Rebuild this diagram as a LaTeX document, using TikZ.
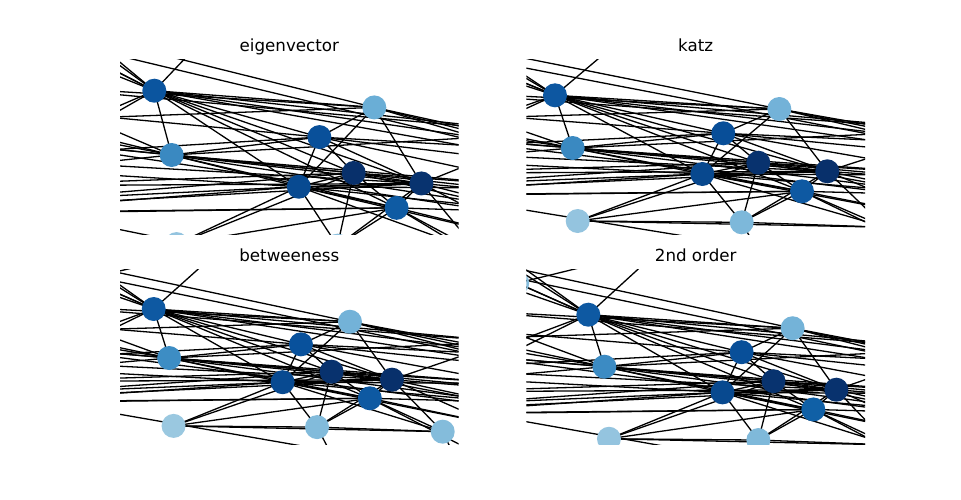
\documentclass[tikz,border=0pt]{standalone}
\usepackage{fontspec}
\setmainfont{DejaVu Sans}
\tikzset{
  edge/.style={line width=1.3pt, black},
  vert/.style={circle, inner sep=0pt, minimum size=24pt, draw=none},
  ttl/.style={font=\fontsize{16.7pt}{20pt}\selectfont, anchor=base, inner sep=0pt}
}
% colours: panel 1 eigenvector
\definecolor{p1cA}{HTML}{0B559F}\definecolor{p1cB}{HTML}{6AAED6}\definecolor{p1cC}{HTML}{3A89C1}
\definecolor{p1cD}{HTML}{09509A}\definecolor{p1cE}{HTML}{08306B}\definecolor{p1cF}{HTML}{084A91}
\definecolor{p1cG}{HTML}{08336F}\definecolor{p1cH}{HTML}{0F5BA3}\definecolor{p1cI}{HTML}{94C4DF}
\definecolor{p1cJ}{HTML}{8BBFDD}\definecolor{p1cK}{HTML}{9CC9E1}\definecolor{p1cL}{HTML}{A3CCE3}
% panel 2 katz
\definecolor{p2cA}{HTML}{0D57A1}\definecolor{p2cB}{HTML}{73B2D8}\definecolor{p2cC}{HTML}{3A89C1}
\definecolor{p2cD}{HTML}{084E98}\definecolor{p2cE}{HTML}{08326E}\definecolor{p2cF}{HTML}{08488E}
\definecolor{p2cG}{HTML}{08306B}\definecolor{p2cH}{HTML}{0E59A2}\definecolor{p2cI}{HTML}{94C4DF}
\definecolor{p2cJ}{HTML}{7DB8DA}\definecolor{p2cK}{HTML}{9ECAE1}\definecolor{p2cL}{HTML}{9ECAE1}
% panel 3 betweeness
\definecolor{p3cA}{HTML}{0E59A2}\definecolor{p3cB}{HTML}{73B2D8}\definecolor{p3cC}{HTML}{3D8DC4}
\definecolor{p3cD}{HTML}{08519C}\definecolor{p3cE}{HTML}{08326E}\definecolor{p3cF}{HTML}{084A91}
\definecolor{p3cG}{HTML}{08306B}\definecolor{p3cH}{HTML}{0E59A2}\definecolor{p3cI}{HTML}{9AC8E0}
\definecolor{p3cJ}{HTML}{82BBDB}\definecolor{p3cK}{HTML}{84BCDB}\definecolor{p3cL}{HTML}{9ECAE1}
% panel 4 2nd order
\definecolor{p4cA}{HTML}{0E59A2}\definecolor{p4cB}{HTML}{74B3D8}\definecolor{p4cC}{HTML}{3C8BC3}
\definecolor{p4cD}{HTML}{084F99}\definecolor{p4cE}{HTML}{08336F}\definecolor{p4cF}{HTML}{08498F}
\definecolor{p4cG}{HTML}{08326E}\definecolor{p4cH}{HTML}{1060A6}\definecolor{p4cI}{HTML}{94C4DF}
\definecolor{p4cJ}{HTML}{7FB9DA}\definecolor{p4cK}{HTML}{9ECAE1}\definecolor{p4cL}{HTML}{85BCDC}

\newcommand\drawgraph[1]{%
  \foreach \n/\xx/\yy in {A/0/0, B/224.3/13.7, C/17.7/52.7, D/168.3/38, E/203.3/67.4,
     F/147.3/78.7, G/272.3/76, H/247/96, I/22.7/125.7, J/186.7/127, K/330.3/131.9, L/-78/-32,
     P1/-150/-100, P2/-170/-100, P4/-170/-70, P5/-180/-58, P6/-130/45, P7/-120/55,
     T/167/-141, T2/112/-75, U1/-300/-91, U2/-300/-79.4,
     Q1/-150/-5, Q2/-200/10, Q3/-160/25, Q4/-140/40, Q5/-180/55, Q6/-130/65, Q7/-170/78,
     Q8/-140/90, Q9/-190/100, Q10/-150/95, Q11/-120/100,
     S1/420/60, S2/450/65, S3/400/35, S4/450/59, S5/430/50, S6/410/80, S7/460/90, S8/400/100,
     S9/440/110, S10/420/130, S11/450/150, S12/400/170, S13/430/190,
     V2/250/240, V3/380/230}{\coordinate (#1\n) at (\xx,\yy);}
  \foreach \a/\b in {A/L, A/P1, A/P2, A/P4, A/P5, A/P6, A/P7, A/T, A/C, A/B, A/D, A/E, A/F, A/G, A/H,
     A/S1, A/S3, A/S5, B/U1, B/S4, B/D, B/F, B/G, B/Q1, B/Q3, B/S1, B/S5, U2/S2,
     C/Q2, C/Q3, C/Q4, C/Q6, C/Q1, C/E, C/G, C/H, C/S3, C/S6, C/D, C/S8, C/F,
     D/F, D/Q5, D/Q2, D/S2, D/S5, D/G, D/E, D/S6,
     E/J, E/Q7, E/Q4, E/G, E/S6, E/S7, E/S9, E/H, E/I, E/Q8, E/F,
     F/J, F/I, F/Q6, F/Q8, F/Q9, F/G, F/S6, F/S8, F/S10, F/K, F/H,
     G/J, G/K, G/Q7, G/Q10, G/S3, G/S7, G/S9, G/S11, G/H, G/Q5,
     H/J, H/K, H/Q9, H/S8, H/S10, H/S12, H/I, H/Q11,
     I/K, I/J, J/K, J/V2, K/V3, L/T2, Q1/S3, Q10/S13, Q4/S9}
     {\draw[edge] (#1\a) -- (#1\b);}
  \foreach \n in {A,B,C,D,E,F,G,H,I,J,K,L}{\node[vert, fill=#1c\n] (#1n\n) at (#1\n) {};}
}

\begin{document}
\begin{tikzpicture}[x=1pt, y=-1pt]
  \fill[white] (0,0) rectangle (961,499);
  \useasboundingbox (0,0) rectangle (961,499);

  \node[ttl] (t1) at (289.3,51.6) {eigenvector};
  \node[ttl] (t2) at (695.7,51.6) {katz};
  \node[ttl] (t3) at (289.3,261.2) {betweeness};
  \node[ttl] (t4) at (695.7,261.2) {2nd order};

  \begin{scope}
    \clip (120,59.9) rectangle (458.7,234.5);
    \begin{scope}[shift={(154.3,90.7)}, xscale=0.981, yscale=1.22]
      \drawgraph{p1}
    \end{scope}
  \end{scope}

  \begin{scope}
    \clip (526.4,59.9) rectangle (865,234.5);
    \begin{scope}[shift={(555,95.3)}]
      \drawgraph{p2}
    \end{scope}
  \end{scope}

  \begin{scope}
    \clip (120,269.5) rectangle (458.7,444.1);
    \begin{scope}[shift={(153.7,309)}, xscale=0.875, yscale=0.93]
      \drawgraph{p3}
    \end{scope}
  \end{scope}

  \begin{scope}
    \clip (526.4,269.5) rectangle (865,444.1);
    \begin{scope}[shift={(588.3,314.7)}, xscale=0.911, yscale=0.987]
      \drawgraph{p4}
    \end{scope}
  \end{scope}
\end{tikzpicture}
\end{document}
